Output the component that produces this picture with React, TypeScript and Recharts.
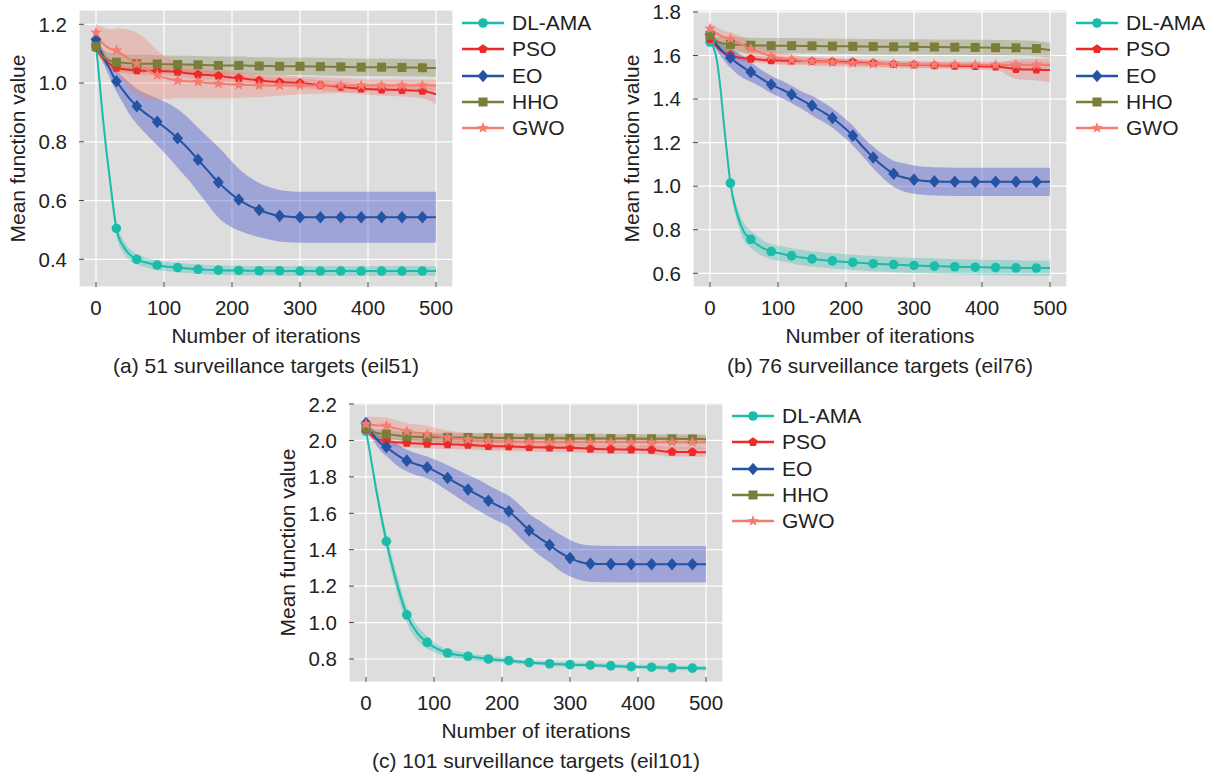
import React from "react";
import { ComposedChart, Line, Area, XAxis, YAxis, CartesianGrid, Legend } from "recharts";

// iterations at which the curves are sampled (markers every 30 iterations)
const ITERS = [
  0, 5, 10, 15, 20, 25, 30, 40, 50, 60, 75,
  90, 105, 120, 135, 150, 165, 180, 195, 210, 225, 240,
  255, 270, 285, 300, 330, 360, 390, 420, 450, 480, 500,
];
const X_TICKS = [0, 100, 200, 300, 400, 500];
const SERIES_NAMES = ["DL-AMA", "PSO", "EO", "HHO", "GWO"];

// (a) eil51
const A_DLAMA = [
  1.13, 1.01, 0.885, 0.775, 0.68, 0.585, 0.505, 0.445, 0.415, 0.4, 0.388,
  0.38, 0.375, 0.372, 0.369, 0.366, 0.364, 0.363, 0.362, 0.362, 0.361, 0.361,
  0.361, 0.361, 0.36, 0.36, 0.36, 0.36, 0.36, 0.36, 0.36, 0.36, 0.36,
];
const A_DLAMA_SD = [
  0.01, 0.02, 0.025, 0.025, 0.025, 0.025, 0.025, 0.022, 0.02, 0.018, 0.017,
  0.016, 0.016, 0.016, 0.016, 0.016, 0.016, 0.016, 0.016, 0.016, 0.016, 0.016,
  0.016, 0.016, 0.016, 0.016, 0.016, 0.016, 0.016, 0.016, 0.016, 0.016, 0.016,
];
const A_PSO = [
  1.12, 1.1, 1.085, 1.075, 1.065, 1.058, 1.052, 1.048, 1.045, 1.043, 1.042,
  1.041, 1.04, 1.038, 1.033, 1.029, 1.027, 1.025, 1.02, 1.017, 1.013, 1.009,
  1.005, 1.003, 1.002, 1.0, 0.993, 0.987, 0.981, 0.978, 0.976, 0.973, 0.962,
];
const A_PSO_SD = [
  0.005, 0.01, 0.012, 0.014, 0.015, 0.015, 0.015, 0.015, 0.015, 0.015, 0.015,
  0.015, 0.015, 0.015, 0.015, 0.015, 0.015, 0.015, 0.015, 0.015, 0.015, 0.015,
  0.015, 0.015, 0.015, 0.016, 0.017, 0.018, 0.019, 0.02, 0.022, 0.025, 0.035,
];
const A_EO = [
  1.148, 1.12, 1.095, 1.07, 1.05, 1.025, 1.006, 0.975, 0.945, 0.921, 0.893,
  0.868, 0.842, 0.812, 0.778, 0.739, 0.7, 0.662, 0.63, 0.603, 0.583, 0.568,
  0.556, 0.548, 0.545, 0.543, 0.543, 0.543, 0.543, 0.543, 0.543, 0.543, 0.543,
];
const A_EO_SD = [
  0.005, 0.015, 0.02, 0.025, 0.03, 0.032, 0.035, 0.045, 0.055, 0.06, 0.07,
  0.08, 0.09, 0.1, 0.105, 0.11, 0.115, 0.12, 0.115, 0.105, 0.098, 0.092,
  0.089, 0.088, 0.087, 0.087, 0.087, 0.087, 0.087, 0.087, 0.087, 0.087, 0.087,
];
const A_HHO = [
  1.125, 1.105, 1.09, 1.082, 1.077, 1.073, 1.071, 1.069, 1.067, 1.066, 1.066,
  1.065, 1.064, 1.063, 1.063, 1.062, 1.061, 1.06, 1.06, 1.06, 1.059, 1.058,
  1.058, 1.057, 1.057, 1.057, 1.056, 1.055, 1.054, 1.054, 1.053, 1.052, 1.051,
];
const A_HHO_SD = [
  0.005, 0.015, 0.02, 0.025, 0.027, 0.028, 0.03, 0.03, 0.03, 0.03, 0.03,
  0.03, 0.03, 0.03, 0.03, 0.03, 0.03, 0.03, 0.03, 0.03, 0.03, 0.03,
  0.03, 0.03, 0.03, 0.03, 0.03, 0.03, 0.03, 0.03, 0.03, 0.03, 0.03,
];
const A_GWO = [
  1.172, 1.15, 1.135, 1.125, 1.118, 1.113, 1.111, 1.095, 1.08, 1.066, 1.045,
  1.027, 1.015, 1.009, 1.006, 1.004, 1.0, 0.998, 0.996, 0.994, 0.993, 0.992,
  0.992, 0.992, 0.992, 0.992, 0.992, 0.992, 0.992, 0.992, 0.992, 0.992, 0.992,
];
const A_GWO_SD = [
  0.03, 0.045, 0.055, 0.06, 0.065, 0.07, 0.075, 0.09, 0.1, 0.105, 0.1,
  0.085, 0.07, 0.06, 0.058, 0.055, 0.052, 0.05, 0.048, 0.045, 0.042, 0.04,
  0.038, 0.035, 0.033, 0.03, 0.028, 0.025, 0.022, 0.02, 0.02, 0.02, 0.02,
];

// (b) eil76
const B_DLAMA = [
  1.662, 1.64, 1.58, 1.46, 1.3, 1.15, 1.014, 0.87, 0.79, 0.756, 0.72,
  0.7, 0.69, 0.68, 0.672, 0.666, 0.661, 0.657, 0.653, 0.65, 0.647, 0.644,
  0.642, 0.64, 0.638, 0.636, 0.633, 0.63, 0.628, 0.626, 0.625, 0.624, 0.624,
];
const B_DLAMA_SD = [
  0.01, 0.015, 0.02, 0.025, 0.025, 0.025, 0.025, 0.035, 0.04, 0.04, 0.037,
  0.035, 0.035, 0.035, 0.035, 0.035, 0.035, 0.035, 0.035, 0.035, 0.035, 0.035,
  0.035, 0.035, 0.035, 0.035, 0.035, 0.035, 0.035, 0.035, 0.035, 0.035, 0.035,
];
const B_PSO = [
  1.675, 1.655, 1.64, 1.625, 1.615, 1.607, 1.603, 1.592, 1.587, 1.585, 1.58,
  1.578, 1.577, 1.576, 1.575, 1.574, 1.573, 1.572, 1.571, 1.57, 1.567, 1.565,
  1.562, 1.56, 1.559, 1.558, 1.555, 1.553, 1.551, 1.549, 1.538, 1.535, 1.533,
];
const B_PSO_SD = [
  0.005, 0.01, 0.012, 0.014, 0.015, 0.015, 0.015, 0.015, 0.015, 0.015, 0.015,
  0.015, 0.015, 0.015, 0.015, 0.015, 0.015, 0.015, 0.015, 0.015, 0.015, 0.015,
  0.015, 0.015, 0.015, 0.015, 0.015, 0.015, 0.015, 0.015, 0.045, 0.05, 0.055,
];
const B_EO = [
  1.697, 1.675, 1.65, 1.63, 1.615, 1.6, 1.59, 1.565, 1.543, 1.524, 1.495,
  1.467, 1.445, 1.421, 1.395, 1.37, 1.343, 1.313, 1.275, 1.232, 1.18, 1.132,
  1.09, 1.057, 1.04, 1.03, 1.022, 1.02, 1.02, 1.02, 1.02, 1.02, 1.02,
];
const B_EO_SD = [
  0.005, 0.015, 0.025, 0.03, 0.035, 0.04, 0.045, 0.05, 0.05, 0.045, 0.04,
  0.04, 0.04, 0.04, 0.04, 0.045, 0.045, 0.045, 0.045, 0.045, 0.045, 0.05,
  0.055, 0.06, 0.065, 0.065, 0.065, 0.065, 0.065, 0.065, 0.065, 0.065, 0.065,
];
const B_HHO = [
  1.693, 1.675, 1.665, 1.66, 1.655, 1.652, 1.651, 1.649, 1.648, 1.647, 1.646,
  1.645, 1.645, 1.645, 1.644, 1.644, 1.643, 1.643, 1.642, 1.642, 1.641, 1.641,
  1.64, 1.64, 1.64, 1.64, 1.639, 1.638, 1.637, 1.636, 1.635, 1.632, 1.625,
];
const B_HHO_SD = [
  0.005, 0.015, 0.02, 0.025, 0.03, 0.032, 0.035, 0.035, 0.035, 0.035, 0.035,
  0.035, 0.035, 0.035, 0.035, 0.035, 0.035, 0.035, 0.035, 0.035, 0.035, 0.035,
  0.035, 0.035, 0.035, 0.035, 0.035, 0.035, 0.035, 0.035, 0.035, 0.035, 0.035,
];
const B_GWO = [
  1.723, 1.71, 1.7, 1.692, 1.685, 1.68, 1.677, 1.66, 1.645, 1.631, 1.612,
  1.597, 1.587, 1.58, 1.576, 1.573, 1.571, 1.569, 1.567, 1.565, 1.563, 1.562,
  1.561, 1.56, 1.56, 1.559, 1.558, 1.558, 1.557, 1.557, 1.557, 1.557, 1.557,
];
const B_GWO_SD = [
  0.02, 0.03, 0.03, 0.03, 0.03, 0.03, 0.03, 0.035, 0.035, 0.035, 0.035,
  0.035, 0.03, 0.025, 0.02, 0.02, 0.02, 0.018, 0.018, 0.018, 0.017, 0.016,
  0.016, 0.015, 0.015, 0.015, 0.015, 0.015, 0.015, 0.015, 0.015, 0.015, 0.015,
];

// (c) eil101
const C_DLAMA = [
  2.05, 1.95, 1.84, 1.73, 1.63, 1.535, 1.446, 1.29, 1.155, 1.042, 0.945,
  0.891, 0.855, 0.833, 0.822, 0.815, 0.807, 0.8, 0.795, 0.791, 0.785, 0.78,
  0.777, 0.774, 0.771, 0.769, 0.766, 0.762, 0.758, 0.755, 0.752, 0.75, 0.749,
];
const C_DLAMA_SD = [
  0.01, 0.02, 0.03, 0.035, 0.04, 0.04, 0.045, 0.05, 0.05, 0.045, 0.04,
  0.035, 0.025, 0.022, 0.02, 0.018, 0.016, 0.015, 0.014, 0.013, 0.013, 0.012,
  0.012, 0.012, 0.012, 0.012, 0.012, 0.012, 0.012, 0.012, 0.012, 0.012, 0.012,
];
const C_PSO = [
  2.06, 2.035, 2.02, 2.01, 2.003, 2.0, 1.998, 1.992, 1.988, 1.986, 1.983,
  1.981, 1.98, 1.979, 1.977, 1.975, 1.972, 1.969, 1.968, 1.967, 1.965, 1.963,
  1.962, 1.961, 1.96, 1.96, 1.954, 1.951, 1.95, 1.948, 1.937, 1.936, 1.935,
];
const C_PSO_SD = [
  0.005, 0.012, 0.015, 0.018, 0.02, 0.022, 0.025, 0.025, 0.025, 0.025, 0.025,
  0.025, 0.025, 0.025, 0.025, 0.025, 0.025, 0.025, 0.025, 0.025, 0.025, 0.025,
  0.025, 0.025, 0.025, 0.025, 0.025, 0.025, 0.025, 0.025, 0.025, 0.025, 0.025,
];
const C_EO = [
  2.096, 2.06, 2.035, 2.01, 1.99, 1.975, 1.964, 1.935, 1.91, 1.889, 1.868,
  1.852, 1.825, 1.794, 1.762, 1.73, 1.7, 1.669, 1.64, 1.611, 1.56, 1.506,
  1.465, 1.426, 1.385, 1.354, 1.323, 1.321, 1.32, 1.32, 1.32, 1.32, 1.32,
];
const C_EO_SD = [
  0.005, 0.02, 0.03, 0.035, 0.04, 0.045, 0.05, 0.055, 0.06, 0.06, 0.06,
  0.06, 0.065, 0.07, 0.075, 0.08, 0.085, 0.085, 0.085, 0.085, 0.09, 0.09,
  0.095, 0.095, 0.1, 0.1, 0.1, 0.1, 0.1, 0.1, 0.1, 0.1, 0.1,
];
const C_HHO = [
  2.068, 2.055, 2.047, 2.042, 2.038, 2.036, 2.035, 2.03, 2.025, 2.022, 2.02,
  2.018, 2.017, 2.017, 2.016, 2.016, 2.015, 2.015, 2.014, 2.014, 2.013, 2.013,
  2.012, 2.012, 2.012, 2.011, 2.011, 2.01, 2.01, 2.009, 2.009, 2.008, 2.007,
];
const C_HHO_SD = [
  0.005, 0.012, 0.018, 0.02, 0.022, 0.024, 0.025, 0.025, 0.025, 0.025, 0.025,
  0.025, 0.025, 0.025, 0.025, 0.025, 0.025, 0.025, 0.025, 0.025, 0.025, 0.025,
  0.025, 0.025, 0.025, 0.025, 0.025, 0.025, 0.025, 0.025, 0.025, 0.025, 0.025,
];
const C_GWO = [
  2.09, 2.087, 2.085, 2.083, 2.082, 2.081, 2.081, 2.07, 2.06, 2.05, 2.042,
  2.035, 2.025, 2.015, 2.008, 2.004, 2.0, 1.997, 1.995, 1.994, 1.993, 1.992,
  1.991, 1.99, 1.99, 1.99, 1.99, 1.99, 1.99, 1.99, 1.99, 1.99, 1.99,
];
const C_GWO_SD = [
  0.03, 0.045, 0.045, 0.045, 0.045, 0.045, 0.045, 0.045, 0.045, 0.045, 0.045,
  0.045, 0.042, 0.04, 0.04, 0.04, 0.04, 0.04, 0.04, 0.04, 0.04, 0.04,
  0.04, 0.038, 0.037, 0.036, 0.035, 0.035, 0.035, 0.035, 0.035, 0.035, 0.035,
];

const KEYS = ["dl", "pso", "eo", "hho", "gwo"];
const LINE_COLORS = ["#1cbcab", "#ec2a2a", "#2453a3", "#7b7d3b", "#f47c70"];
const BAND_COLORS = ["#1cbcab", "#f03a3a", "#4b55d0", "#7b7d3b", "#f47c70"];
const BAND_OPACITY = [0.3, 0.22, 0.42, 0.3, 0.33];
const SHAPES = ["circle", "pentagon", "diamond", "square", "star"];

const FONT = "'Liberation Sans', Arial, Helvetica, sans-serif";
const TEXT = "#222";

function buildRows(means: number[][], sds: number[][]) {
  return ITERS.map((iter, i) => {
    const row: any = { iter };
    KEYS.forEach((k, j) => {
      row[k] = means[j][i];
      row[k + "R"] = [means[j][i] - sds[j][i], means[j][i] + sds[j][i]];
    });
    return row;
  });
}

const DATA_A = buildRows([A_DLAMA, A_PSO, A_EO, A_HHO, A_GWO], [A_DLAMA_SD, A_PSO_SD, A_EO_SD, A_HHO_SD, A_GWO_SD]);
const DATA_B = buildRows([B_DLAMA, B_PSO, B_EO, B_HHO, B_GWO], [B_DLAMA_SD, B_PSO_SD, B_EO_SD, B_HHO_SD, B_GWO_SD]);
const DATA_C = buildRows([C_DLAMA, C_PSO, C_EO, C_HHO, C_GWO], [C_DLAMA_SD, C_PSO_SD, C_EO_SD, C_HHO_SD, C_GWO_SD]);

function polyPoints(cx: number, cy: number, n: number, rOut: number, rIn?: number) {
  const pts: string[] = [];
  const steps = rIn ? n * 2 : n;
  for (let i = 0; i < steps; i++) {
    const r = rIn && i % 2 === 1 ? rIn : rOut;
    const a = -Math.PI / 2 + (i * 2 * Math.PI) / steps;
    pts.push(`${cx + r * Math.cos(a)},${cy + r * Math.sin(a)}`);
  }
  return pts.join(" ");
}

function MarkerShape({ shape, cx, cy, color }: { shape: string; cx: number; cy: number; color: string }) {
  if (shape === "circle") return <circle cx={cx} cy={cy} r={4.8} fill={color} />;
  if (shape === "pentagon") return <polygon points={polyPoints(cx, cy, 5, 4.8)} fill={color} />;
  if (shape === "diamond")
    return <polygon points={`${cx},${cy - 6.3} ${cx + 5.4},${cy} ${cx},${cy + 6.3} ${cx - 5.4},${cy}`} fill={color} />;
  if (shape === "square") return <rect x={cx - 4.5} y={cy - 4.5} width={9} height={9} fill={color} />;
  return <polygon points={polyPoints(cx, cy, 5, 6, 2.6)} fill={color} />;
}

const dotFor = (shape: string, color: string) => (props: any) => {
  const { cx, cy, payload, index } = props;
  if (payload.iter % 30 !== 0 || payload.iter > 480) return <g key={`n${index}`} />;
  return (
    <g key={`d${index}`}>
      <MarkerShape shape={shape} cx={cx} cy={cy} color={color} />
    </g>
  );
};

const renderLegend = () => (
  <div style={{ display: "flex", flexDirection: "column", fontFamily: FONT }}>
    {SERIES_NAMES.map((name, j) => (
      <div key={name} style={{ display: "flex", alignItems: "center", height: 26.3 }}>
        <svg width={42} height={20}>
          <line x1={0} y1={10} x2={42} y2={10} stroke={LINE_COLORS[j]} strokeWidth={2.6} />
          <MarkerShape shape={SHAPES[j]} cx={21} cy={10} color={LINE_COLORS[j]} />
        </svg>
        <span style={{ marginLeft: 8, fontSize: 21, color: TEXT, lineHeight: "26px" }}>{name}</span>
      </div>
    ))}
  </div>
);

type PanelProps = {
  left: number;
  top: number;
  plotH: number;
  yDomain: [number, number];
  yTicks: number[];
  data: any[];
  caption: string;
};

const PLOT_W = 374;
const CHART_W = 600;

function Panel({ left, top, plotH, yDomain, yTicks, data, caption }: PanelProps) {
  const height = 10 + plotH + 60 + 8;
  return (
    <>
      <div style={{ position: "absolute", left, top }}>
        <ComposedChart
          width={CHART_W}
          height={height}
          data={data}
          margin={{ top: 10, right: CHART_W - 79 - PLOT_W, left: 19, bottom: 8 }}
        >
          <CartesianGrid fill="#dddddd" stroke="#ffffff" strokeWidth={1.2} />
          <XAxis
            type="number"
            dataKey="iter"
            domain={[-25, 525]}
            ticks={X_TICKS}
            allowDataOverflow
            axisLine={false}
            tickSize={-5}
            tickMargin={18}
            tickLine={{ stroke: "#444" }}
            tick={{ fontSize: 20.5, fill: TEXT }}
            height={60}
            label={{ value: "Number of iterations", position: "insideBottom", offset: 4, style: { fontSize: 21, fill: TEXT } }}
          />
          <YAxis
            type="number"
            domain={yDomain}
            ticks={yTicks}
            allowDataOverflow
            width={60}
            axisLine={false}
            tickSize={-5}
            tickMargin={17}
            tickLine={{ stroke: "#444" }}
            tick={{ fontSize: 20.5, fill: TEXT }}
            tickFormatter={(v: number) => v.toFixed(1)}
            label={{
              value: "Mean function value",
              angle: -90,
              position: "insideLeft",
              offset: -1.5,
              style: { textAnchor: "middle", fontSize: 21, fill: TEXT },
            }}
          />
          {KEYS.map((k, j) => (
            <Area
              key={k + "band"}
              type="monotone"
              dataKey={k + "R"}
              stroke="none"
              fill={BAND_COLORS[j]}
              fillOpacity={BAND_OPACITY[j]}
              legendType="none"
              activeDot={false}
              isAnimationActive={false}
            />
          ))}
          {KEYS.map((k, j) => (
            <Line
              key={k}
              type="monotone"
              dataKey={k}
              name={SERIES_NAMES[j]}
              stroke={LINE_COLORS[j]}
              strokeWidth={2}
              dot={dotFor(SHAPES[j], LINE_COLORS[j])}
              activeDot={false}
              isAnimationActive={false}
            />
          ))}
          <Legend
            layout="vertical"
            align="center"
            verticalAlign="middle"
            content={renderLegend}
            wrapperStyle={{ left: 79 + PLOT_W + 9, top: 10, width: 140 }}
          />
        </ComposedChart>
      </div>
      <div
        style={{
          position: "absolute",
          left: left + 79 - 40,
          top: top + 10 + plotH + 79 - 12,
          width: PLOT_W + 80,
          height: 24,
          lineHeight: "24px",
          textAlign: "center",
          fontSize: 21,
          color: TEXT,
          whiteSpace: "nowrap",
        }}
      >
        {caption}
      </div>
    </>
  );
}

export default function App() {
  return (
    <div
      style={{
        position: "absolute",
        left: 0,
        top: 0,
        width: 1216,
        height: 776,
        background: "#fff",
        overflow: "hidden",
        fontFamily: FONT,
      }}
    >
      <Panel
        left={0}
        top={0}
        plotH={277}
        yDomain={[0.3057, 1.2487]}
        yTicks={[0.4, 0.6, 0.8, 1.0, 1.2]}
        data={DATA_A}
        caption="(a) 51 surveillance targets (eil51)"
      />
      <Panel
        left={614}
        top={0}
        plotH={277}
        yDomain={[0.537, 1.809]}
        yTicks={[0.6, 0.8, 1.0, 1.2, 1.4, 1.6, 1.8]}
        data={DATA_B}
        caption="(b) 76 surveillance targets (eil76)"
      />
      <Panel
        left={270}
        top={393}
        plotH={279}
        yDomain={[0.6737, 2.2055]}
        yTicks={[0.8, 1.0, 1.2, 1.4, 1.6, 1.8, 2.0, 2.2]}
        data={DATA_C}
        caption="(c) 101 surveillance targets (eil101)"
      />
    </div>
  );
}
